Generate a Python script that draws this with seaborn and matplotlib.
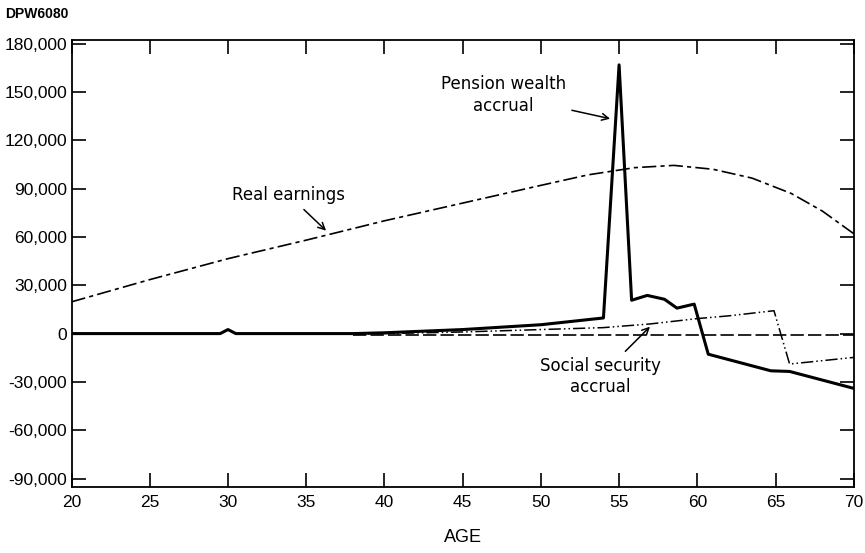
import matplotlib
matplotlib.use('Agg')
import matplotlib.pyplot as plt
import matplotlib.ticker as mticker
import pandas as pd
import seaborn as sns

# Values
earn_age = [20, 25, 30, 35, 40, 45, 50, 53, 56, 58.5, 61, 63.5, 66, 68, 70]
earn_val = [19700, 33500, 46500, 58000, 70000, 81000, 92000, 98500, 103000, 104400, 102000, 96500, 87000, 76000, 62000]

pens_age = [20, 29.5, 30, 30.5, 38, 40, 45, 50, 54, 55, 55.8, 56.8, 57.9, 58.7, 59.8, 60.7, 64.7, 65.9, 70]
pens_val = [0, 0, 2500, 0, 0, 500, 2500, 5500, 9700, 166800, 20700, 23700, 21300, 15800, 18300, -12800, -23100, -23500, -34000]

ss_age = [38, 40, 45, 50, 54, 57, 60, 62, 64.9, 65.9, 70]
ss_val = [-500, 0, 1000, 2500, 3700, 6000, 9300, 11000, 14200, -18900, -14800]

base_age = [38, 70]
base_val = [-1000, -1000]

y_ticks = [-90000, -60000, -30000, 0, 30000, 60000, 90000, 120000, 150000, 180000]
x_ticks = [20, 25, 30, 35, 40, 45, 50, 55, 60, 65, 70]

sns.set_style('ticks')
plt.rcParams['font.family'] = ['Liberation Sans', 'DejaVu Sans']
plt.rcParams['text.color'] = 'black'
plt.rcParams['xtick.color'] = 'black'
plt.rcParams['ytick.color'] = 'black'
plt.rcParams['axes.labelcolor'] = 'black'

fig, ax = plt.subplots(figsize=(8.65, 5.53), dpi=100)
fig.subplots_adjust(left=0.0827, right=0.987, top=0.927, bottom=0.12)

df_earn = pd.DataFrame({'age': earn_age, 'value': earn_val})
df_pens = pd.DataFrame({'age': pens_age, 'value': pens_val})
df_ss = pd.DataFrame({'age': ss_age, 'value': ss_val})
df_base = pd.DataFrame({'age': base_age, 'value': base_val})

sns.lineplot(data=df_earn, x='age', y='value', color='black', lw=1.2,
             linestyle=(0, (8.5, 2.5, 2.5, 2.5)), ax=ax)
sns.lineplot(data=df_base, x='age', y='value', color='black', lw=1.2,
             linestyle=(0, (8, 2.5)), ax=ax)
sns.lineplot(data=df_ss, x='age', y='value', color='black', lw=1.1,
             linestyle=(0, (8, 2, 1, 2, 1, 2)), ax=ax)
sns.lineplot(data=df_pens, x='age', y='value', color='black', lw=2.2, ax=ax)

ax.set_xlim(20, 70)
ax.set_ylim(-95000, 182000)
ax.set_xticks(x_ticks)
ax.set_yticks(y_ticks)
ax.yaxis.set_major_formatter(mticker.FuncFormatter(lambda v, p: f'{int(v):,}'))
ax.tick_params(direction='in', length=10, width=1.2, top=True, right=True,
               labelsize=12.5, pad=3)
ax.tick_params(axis='x', pad=6)
for s in ax.spines.values():
    s.set_linewidth(1.3)
    s.set_color('black')

ax.set_xlabel('AGE', fontsize=13, labelpad=14)
ax.set_ylabel('')

fig.text(0.006, 0.975, 'DPW6080', fontsize=10, fontweight='bold',
         ha='left', va='center')

arrow = dict(arrowstyle='->', color='black', lw=1.1)
ann_font = dict(fontsize=12, family='DejaVu Sans', linespacing=1.25)
ax.annotate('Real earnings', xy=(36.4, 62700), xytext=(33.9, 85800),
            ha='center', va='center', arrowprops=arrow, **ann_font)
ax.annotate('Pension wealth\naccrual', xy=(54.6, 133000), xytext=(47.6, 148000),
            ha='center', va='center', arrowprops=arrow, **ann_font)
ax.annotate('Social security\naccrual', xy=(57.1, 5500), xytext=(53.8, -26500),
            ha='center', va='center', arrowprops=arrow, **ann_font)

fig.savefig('out.png', dpi=100)
